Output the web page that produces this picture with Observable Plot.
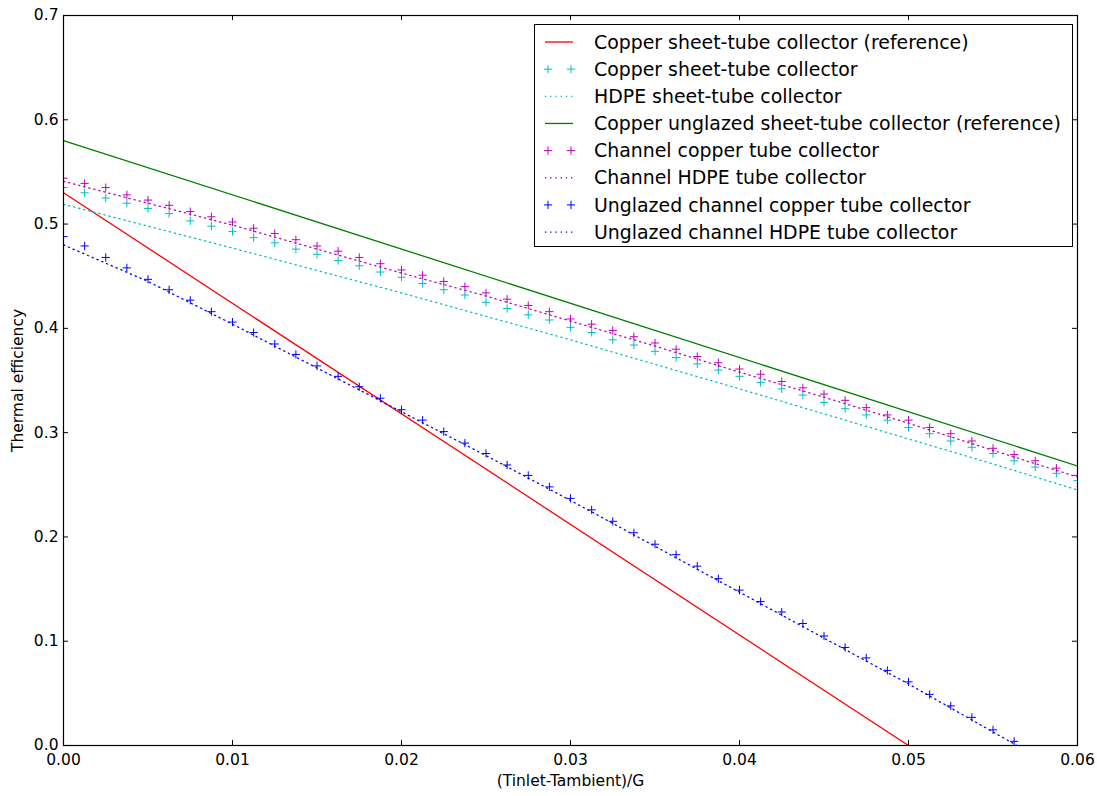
<!DOCTYPE html>
<html><head><meta charset="utf-8">
<script src="https://cdn.jsdelivr.net/npm/d3@7"></script>
<script src="https://cdn.jsdelivr.net/npm/@observablehq/plot@0.6"></script>
<style>body{margin:0;background:#fff;} svg{display:block;}</style>
</head><body><div id="chart"></div>
<script>
// sample grid of the marker series
const xGrid = [0,0.00125,0.0025,0.00375,0.005,0.00625,0.0075,0.00875,0.01,0.01125,0.0125,0.01375,0.015,0.01625,0.0175,0.01875,0.02,0.02125,0.0225,0.02375,0.025,0.02625,0.0275,0.02875,0.03,0.03125,0.0325,0.03375,0.035,0.03625,0.0375,0.03875,0.04,0.04125,0.0425,0.04375,0.045,0.04625,0.0475,0.04875,0.05,0.05125,0.0525,0.05375,0.055,0.05625,0.0575,0.05875,0.06];
// Copper sheet-tube collector (cyan +)
const copperSheetTube = [0.535,0.530,0.525,0.520,0.515,0.510,0.503,0.498,0.493,0.487,0.482,0.476,0.471,0.465,0.460,0.454,0.449,0.443,0.437,0.432,0.425,0.419,0.413,0.408,0.401,0.396,0.389,0.384,0.378,0.372,0.366,0.360,0.354,0.348,0.342,0.336,0.329,0.323,0.317,0.312,0.305,0.299,0.292,0.286,0.280,0.273,0.267,0.261,0.254];
// Channel copper tube collector (magenta +)
const channelCopper = [0.544,0.539,0.535,0.528,0.523,0.518,0.512,0.507,0.502,0.496,0.491,0.485,0.479,0.474,0.468,0.462,0.456,0.451,0.445,0.440,0.434,0.428,0.422,0.416,0.409,0.404,0.398,0.392,0.386,0.380,0.373,0.367,0.361,0.356,0.349,0.343,0.337,0.331,0.324,0.317,0.312,0.305,0.299,0.292,0.285,0.279,0.273,0.266,0.259];
// Unglazed channel copper tube collector (blue +), visible points only
const unglazedChannelCopper = [0.488,0.479,0.468,0.458,0.447,0.437,0.427,0.416,0.406,0.396,0.385,0.375,0.364,0.354,0.344,0.333,0.322,0.312,0.301,0.290,0.280,0.269,0.259,0.248,0.237,0.226,0.215,0.204,0.193,0.183,0.172,0.160,0.149,0.138,0.128,0.117,0.105,0.094,0.084,0.072,0.061,0.049,0.038,0.027,0.015,0.004];
// dotted curves
const xLine = [0,0.005,0.01,0.015,0.02,0.025,0.03,0.035,0.04,0.045,0.05,0.055,0.06];
const hdpeSheetTube = [0.519,0.498,0.477,0.4555,0.434,0.4115,0.389,0.3655,0.342,0.318,0.294,0.270,0.245];
const channelHDPE = [0.541,0.520,0.499,0.476,0.453,0.431,0.407,0.383,0.358,0.334,0.309,0.283,0.2575];
const unglazedChannelHDPE = [0.480,0.445,0.404,0.362,0.320,0.278,0.235,0.191,0.147,0.103,0.059,0.013,-0.033];
// reference straight lines
const refSheetX = [0,0.05];
const copperSheetRef = [0.53,0];
const refUnglazedX = [0,0.06];
const copperUnglazedRef = [0.58,0.268];
// ticks
const xTicks = [0,0.01,0.02,0.03,0.04,0.05,0.06];
const yTicks = [0,0.1,0.2,0.3,0.4,0.5,0.6,0.7];
const legendLabels = [
  "Copper sheet-tube collector (reference)",
  "Copper sheet-tube collector",
  "HDPE sheet-tube collector",
  "Copper unglazed sheet-tube collector (reference)",
  "Channel copper tube collector",
  "Channel HDPE tube collector",
  "Unglazed channel copper tube collector",
  "Unglazed channel HDPE tube collector"
];

const C = {red:"#ff0000", cyan:"#00bfbf", green:"#008000", magenta:"#bf00bf", blue:"#0000ff"};
const pts = (xs, ys) => ys.map((y,i) => ({x: xs[i], y}));
const plus = {draw(ctx, size){ const r = Math.sqrt(size/Math.PI); ctx.moveTo(-r,0); ctx.lineTo(r,0); ctx.moveTo(0,-r); ctx.lineTo(0,r); }};
const W = 1097, H = 796, mL = 63, mR = 20, mT = 15, mB = 51;
const fw = W - mL - mR, fh = H - mT - mB, tl = 5;
const dotted = "1.3,3.9";

const lineOpts = (stroke, extra={}) => ({x:"x", y:"y", stroke, strokeWidth:1.3, clip:true, ...extra});
const dotOpts = (stroke) => ({x:"x", y:"y", symbol: plus, r:4.1, stroke, fill:"none", strokeWidth:1, clip:true});

const plot = Plot.plot({
  width: W, height: H,
  marginLeft: mL, marginRight: mR, marginTop: mT, marginBottom: mB,
  style: {fontFamily: "DejaVu Sans", fontSize: "15.5px", color: "black", background: "white"},
  x: {domain: [0, 0.06]},
  y: {domain: [0, 0.7]},
  marks: [
    Plot.line(pts(refSheetX, copperSheetRef), lineOpts(C.red)),
    Plot.dot(pts(xGrid, copperSheetTube), dotOpts(C.cyan)),
    Plot.line(pts(xLine, hdpeSheetTube), lineOpts(C.cyan, {strokeDasharray: dotted})),
    Plot.line(pts(refUnglazedX, copperUnglazedRef), lineOpts(C.green)),
    Plot.dot(pts(xGrid, channelCopper), dotOpts(C.magenta)),
    Plot.line(pts(xLine, channelHDPE), lineOpts(C.magenta, {strokeDasharray: dotted})),
    Plot.dot(pts(xGrid, unglazedChannelCopper), dotOpts(C.blue)),
    Plot.line(pts(xLine, unglazedChannelHDPE), lineOpts(C.blue, {strokeDasharray: dotted})),
    Plot.tickX(xTicks, {x: d => d, insetTop: fh - tl, stroke: "black"}),
    Plot.tickX(xTicks, {x: d => d, insetBottom: fh - tl, stroke: "black"}),
    Plot.tickY(yTicks, {y: d => d, insetRight: fw - tl, stroke: "black"}),
    Plot.tickY(yTicks, {y: d => d, insetLeft: fw - tl, stroke: "black"}),
    Plot.frame({stroke: "black", strokeWidth: 1.2}),
    Plot.axisX(xTicks, {tickSize: 0, tickPadding: 8, tickFormat: d3.format(".2f"), label: null, fontSize: 15.5}),
    Plot.axisY(yTicks, {tickSize: 0, tickPadding: 5, tickFormat: d3.format(".1f"), label: null, fontSize: 15.5}),
    Plot.text(["(Tinlet-Tambient)/G"], {frameAnchor: "bottom", dy: 36, text: d => d, fontSize: 15.5, textAnchor: "middle", lineAnchor: "middle"}),
    Plot.text(["Thermal efficiency"], {frameAnchor: "left", dx: -45, rotate: -90, text: d => d, fontSize: 15.5, textAnchor: "middle", lineAnchor: "middle"})
  ]
});
document.getElementById("chart").appendChild(plot);

// legend inside the axes (upper right)
const legendStyle = [
  {type:"line", color:C.red},
  {type:"marker", color:C.cyan},
  {type:"line", color:C.cyan, dash:dotted},
  {type:"line", color:C.green},
  {type:"marker", color:C.magenta},
  {type:"line", color:C.magenta, dash:dotted},
  {type:"marker", color:C.blue},
  {type:"line", color:C.blue, dash:dotted}
];
const lg = d3.select(plot).append("g")
  .attr("font-family","DejaVu Sans").attr("font-size","18.9px").attr("text-anchor","start");
lg.append("rect").attr("x",534.5).attr("y",24.5).attr("width",538).attr("height",222)
  .attr("fill","white").attr("stroke","black").attr("stroke-width",1);
legendLabels.forEach((label, i) => {
  const s = legendStyle[i];
  const y = 42 + i * 27.15;
  if (s.type === "line") {
    const ln = lg.append("line").attr("x1",545).attr("x2",573).attr("y1",y).attr("y2",y)
      .attr("stroke",s.color).attr("stroke-width",1.3);
    if (s.dash) ln.attr("stroke-dasharray", s.dash);
  } else {
    for (const cx of [548, 571]) {
      lg.append("path").attr("d",`M${cx-4.1},${y}H${cx+4.1}M${cx},${y-4.1}V${y+4.1}`)
        .attr("stroke",s.color).attr("stroke-width",1).attr("fill","none");
    }
  }
  lg.append("text").attr("x",594).attr("y",y).attr("dy","0.35em").attr("fill","black")
    .attr("text-anchor","start").text(label);
});
</script>
</body></html>
